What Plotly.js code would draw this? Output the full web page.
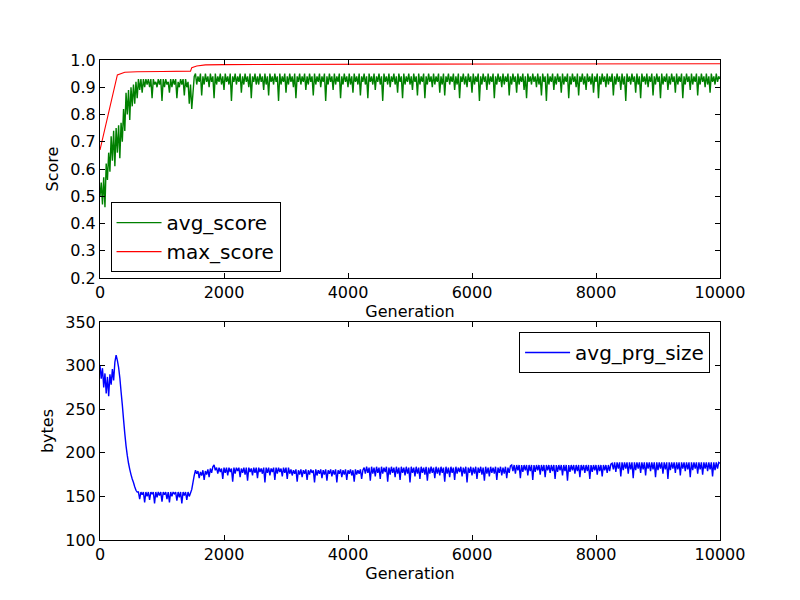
<!DOCTYPE html>
<html>
<head>
<meta charset="utf-8">
<script src="https://cdn.plot.ly/plotly-3.0.1.min.js"></script>
<style>
  body { margin: 0; background: #fff; }
  #chart { width: 800px; height: 600px; }
</style>
</head>
<body>
<div id="chart"></div>
<script>
// one value every 20 generations
var step = 20;

// avg_score (top panel)
var avgScore = [
  // 0 - 740, climbing
  0.50,0.55,0.47,0.57,0.46,0.62,0.56,0.66,0.59,0.72,
  0.63,0.74,0.61,0.75,0.66,0.76,0.64,0.77,0.70,0.82,
  0.74,0.88,0.80,0.89,0.78,0.90,0.83,0.91,0.84,0.92,
  0.86,0.93,0.89,0.93,0.88,0.93,0.90,0.93,
  // 760 - 1460, first plateau
  0.91,0.93,0.90,0.93,0.86,0.93,0.91,0.92,0.90,0.93,
  0.91,0.93,0.85,0.93,0.90,0.93,0.91,0.92,0.88,0.93,
  0.90,0.93,0.91,0.93,0.86,0.92,0.90,0.93,0.91,0.93,
  0.87,0.93,0.90,0.92,0.84,0.91,
  // 1480 - 1520, dip then jump
  0.82,0.88,0.94,
  // 1540 - 10000
  0.95,0.91,0.94,0.92,0.95,0.87,0.94,0.91,0.95,0.92,
  0.94,0.90,0.95,0.92,0.94,0.86,0.95,0.91,0.94,0.92,
  0.95,0.91,0.94,0.89,0.95,0.92,0.94,0.91,0.95,0.85,
  0.94,0.92,0.95,0.91,0.94,0.92,0.95,0.88,0.94,0.91,
  0.95,0.92,0.94,0.90,0.95,0.86,0.94,0.92,0.95,0.91,
  0.94,0.91,0.95,0.92,0.94,0.89,0.95,0.91,0.94,0.87,
  0.95,0.92,0.94,0.91,0.95,0.92,0.94,0.85,0.95,0.91,
  0.94,0.92,0.95,0.88,0.94,0.91,0.95,0.92,0.94,0.90,
  0.95,0.86,0.94,0.92,0.95,0.91,0.94,0.92,0.95,0.89,
  0.94,0.91,0.95,0.92,0.94,0.87,0.95,0.91,0.94,0.92,
  0.95,0.90,0.94,0.92,0.95,0.85,0.94,0.91,0.95,0.92,
  0.94,0.89,0.95,0.91,0.94,0.92,0.95,0.86,0.94,0.91,
  0.95,0.92,0.94,0.90,0.95,0.91,0.94,0.88,0.95,0.92,
  0.94,0.91,0.95,0.87,0.94,0.92,0.95,0.91,0.94,0.86,
  0.95,0.92,0.94,0.91,0.95,0.89,0.94,0.92,0.95,0.91,
  0.94,0.85,0.95,0.92,0.94,0.91,0.95,0.90,0.94,0.92,
  0.95,0.91,0.94,0.88,0.95,0.92,0.94,0.86,0.95,0.91,
  0.94,0.92,0.95,0.91,0.94,0.89,0.95,0.92,0.94,0.87,
  0.95,0.91,0.94,0.92,0.95,0.86,0.94,0.91,0.95,0.92,
  0.94,0.90,0.95,0.91,0.94,0.92,0.95,0.88,0.94,0.91,
  0.95,0.87,0.94,0.92,0.95,0.91,0.94,0.92,0.95,0.89,
  0.94,0.91,0.95,0.86,0.94,0.92,0.95,0.91,0.94,0.90,
  0.95,0.92,0.94,0.88,0.95,0.91,0.94,0.92,0.95,0.85,
  0.94,0.91,0.95,0.92,0.94,0.89,0.95,0.91,0.94,0.92,
  0.95,0.86,0.94,0.91,0.95,0.92,0.94,0.90,0.95,0.91,
  0.94,0.92,0.95,0.87,0.94,0.91,0.95,0.92,0.94,0.88,
  0.95,0.91,0.94,0.92,0.95,0.89,0.94,0.86,0.95,0.92,
  0.94,0.91,0.95,0.92,0.94,0.90,0.95,0.91,0.94,0.87,
  0.95,0.92,0.94,0.85,0.95,0.91,0.94,0.92,0.95,0.89,
  0.94,0.91,0.95,0.92,0.94,0.88,0.95,0.91,0.94,0.92,
  0.95,0.86,0.94,0.91,0.95,0.92,0.94,0.90,0.95,0.87,
  0.94,0.92,0.95,0.91,0.94,0.89,0.95,0.92,0.94,0.91,
  0.95,0.88,0.94,0.92,0.95,0.86,0.94,0.91,0.95,0.92,
  0.94,0.90,0.95,0.91,0.94,0.92,0.95,0.87,0.94,0.91,
  0.95,0.92,0.94,0.89,0.95,0.91,0.94,0.85,0.95,0.92,
  0.94,0.91,0.95,0.92,0.94,0.88,0.95,0.91,0.94,0.86,
  0.95,0.92,0.94,0.91,0.95,0.90,0.94,0.92,0.95,0.87,
  0.94,0.91,0.95,0.92,0.94,0.86,0.95,0.91,0.94,0.92,
  0.95,0.89,0.94,0.91,0.95,0.92,0.94,0.88,0.95,0.91,
  0.94,0.92,0.95,0.86,0.94,0.91,0.95,0.92,0.94,0.89,
  0.95,0.91,0.94,0.92,0.95,0.87,0.94,0.91,0.95,0.92,
  0.94,0.90,0.95,0.91,0.94,0.88,0.95,0.92,0.94,0.91,
  0.95,0.92,0.94,0.93
];

// max_score is a step curve, few points are enough
var maxGen   = [0, 280, 400, 600, 1000, 1460, 1480, 1560, 1700, 2000, 5000, 10000];
var maxScore = [0.67, 0.945, 0.955, 0.957, 0.958, 0.959, 0.972, 0.978, 0.982, 0.983, 0.985, 0.986];

// avg_prg_size (bottom panel)
var avgSize = [
  // 0 - 300
  300,285,297,275,291,268,287,265,290,278,296,283,304,312,306,298,
  // 320 - 600, shrinking
  286,270,255,238,222,208,197,188,181,175,170,166,161,157,155,
  // 620 - 1460
  155,147,155,152,155,143,155,150,155,146,
  155,153,155,142,155,149,155,151,155,144,
  155,152,155,147,155,143,155,150,155,153,
  155,145,155,149,155,142,155,151,155,146,
  155,150,154,
  // 1480 - 1860
  158,166,174,180,176,179,171,178,174,180,169,179,175,181,172,182,177,184,186,180,
  // 1880 - 3060
  183,176,183,178,182,170,183,177,183,174,
  183,178,182,167,183,176,183,179,183,172,
  182,177,183,175,183,168,183,178,182,174,
  183,177,183,171,183,178,182,176,183,166,
  183,177,183,174,182,178,183,169,183,176,
  183,178,182,173,183,177,183,170,183,176,
  // 3080 - 4240
  181,174,180,176,181,167,180,175,181,172,
  180,176,181,169,180,175,181,177,180,166,
  181,174,180,176,181,171,180,175,181,168,
  180,176,181,173,180,175,181,166,180,176,
  181,172,180,175,181,169,180,176,181,174,
  180,167,181,175,180,176,181,170,180,
  // 4260 - 6620
  183,176,184,177,183,168,184,176,183,173,
  184,177,183,170,184,176,183,178,184,167,
  183,175,184,177,183,172,184,176,183,169,
  184,177,183,174,184,176,183,166,184,177,
  183,173,184,176,183,170,184,177,183,175,
  184,168,183,176,184,177,183,171,184,176,
  183,174,184,177,183,167,184,176,183,172,
  184,177,183,169,184,176,183,178,184,173,
  183,176,184,166,183,177,184,174,183,176,
  184,170,183,177,184,175,183,168,184,176,
  183,173,184,177,183,176,184,169,183,177,
  184,174,183,176,184,171,183,177,185,
  // 6640 - 8240
  186,179,186,176,186,180,186,171,186,178,
  186,180,186,174,186,179,186,169,186,178,
  186,180,186,175,186,179,186,172,186,180,
  186,177,186,179,186,170,186,178,186,180,
  186,174,186,179,186,168,186,178,186,180,
  186,176,186,179,186,172,186,180,186,177,
  186,179,186,170,186,178,186,180,186,175,
  186,179,186,173,186,180,186,177,186,179,
  187,
  // 8260 - 10000
  188,181,189,178,189,182,189,173,189,180,
  189,182,189,176,189,181,189,171,189,180,
  189,182,189,177,189,181,189,174,189,182,
  189,179,189,181,189,172,189,180,189,182,
  189,176,189,181,189,170,189,180,189,182,
  189,177,189,181,189,174,189,182,189,179,
  189,181,189,172,189,180,189,182,189,176,
  189,181,189,175,189,182,189,179,189,181,
  189,173,189,180,189,182,189,188
];

var scoreGens = avgScore.map(function (v, i) { return i * step; });
var sizeGens = avgSize.map(function (v, i) { return i * step; });

var font = 'DejaVu Sans, sans-serif';

var trace1 = {
    x: scoreGens,
    y: avgScore,
    name: 'avg_score',
    type: 'scatter',
    mode: 'lines',
    line: { color: '#008000', width: 1.4, simplify: false },
    xaxis: 'x',
    yaxis: 'y',
    legend: 'legend'
};

var trace2 = {
    x: maxGen,
    y: maxScore,
    name: 'max_score',
    type: 'scatter',
    mode: 'lines',
    line: { color: '#ff0000', width: 1.1 },
    xaxis: 'x',
    yaxis: 'y',
    legend: 'legend'
};

var trace3 = {
    x: sizeGens,
    y: avgSize,
    name: 'avg_prg_size',
    type: 'scatter',
    mode: 'lines',
    line: { color: '#0000ff', width: 1.4, simplify: false },
    xaxis: 'x2',
    yaxis: 'y2',
    legend: 'legend2'
};

function axis(extra) {
    var a = {
        showline: true,
        linecolor: '#000',
        linewidth: 1,
        mirror: 'ticks',
        ticks: 'inside',
        ticklen: 5,
        tickcolor: '#000',
        showgrid: false,
        zeroline: false,
        tickfont: { family: font, size: 16, color: '#000' }
    };
    for (var k in extra) a[k] = extra[k];
    return a;
}

var titleFont = { family: font, size: 16, color: '#000' };

var layout = {
    width: 800,
    height: 600,
    font: { family: font, size: 16, color: '#000' },
    paper_bgcolor: '#fff',
    plot_bgcolor: '#fff',
    margin: { l: 99.5, r: 80, t: 60, b: 60 },
    showlegend: true,
    xaxis: axis({
        domain: [0, 1], anchor: 'y', range: [0, 10000], dtick: 2000, tickformat: 'd',
        title: { text: 'Generation', font: titleFont, standoff: 0 }
    }),
    yaxis: axis({
        domain: [0.5458, 1], anchor: 'x', range: [0.2, 1.0], dtick: 0.1, tickformat: '.1f',
        title: { text: 'Score', font: titleFont, standoff: 7 }
    }),
    xaxis2: axis({
        domain: [0, 1], anchor: 'y2', range: [0, 10000], dtick: 2000, tickformat: 'd',
        title: { text: 'Generation', font: titleFont, standoff: 0 }
    }),
    yaxis2: axis({
        domain: [0, 0.4542], anchor: 'x2', range: [100, 350], dtick: 50,
        title: { text: 'bytes', font: titleFont, standoff: 7 }
    }),
    legend: {
        x: 0.017, y: 0.704, xanchor: 'left', yanchor: 'top',
        bgcolor: '#fff', bordercolor: '#000', borderwidth: 1,
        font: { family: font, size: 20, color: '#000' },
        traceorder: 'normal', itemwidth: 45
    },
    legend2: {
        x: 0.984, y: 0.4333, xanchor: 'right', yanchor: 'top',
        bgcolor: '#fff', bordercolor: '#000', borderwidth: 1,
        font: { family: font, size: 20, color: '#000' },
        itemwidth: 45
    }
};

var config = { staticPlot: true, displayModeBar: false };

Plotly.newPlot('chart', [trace1, trace2, trace3], layout, config);
</script>
</body>
</html>
